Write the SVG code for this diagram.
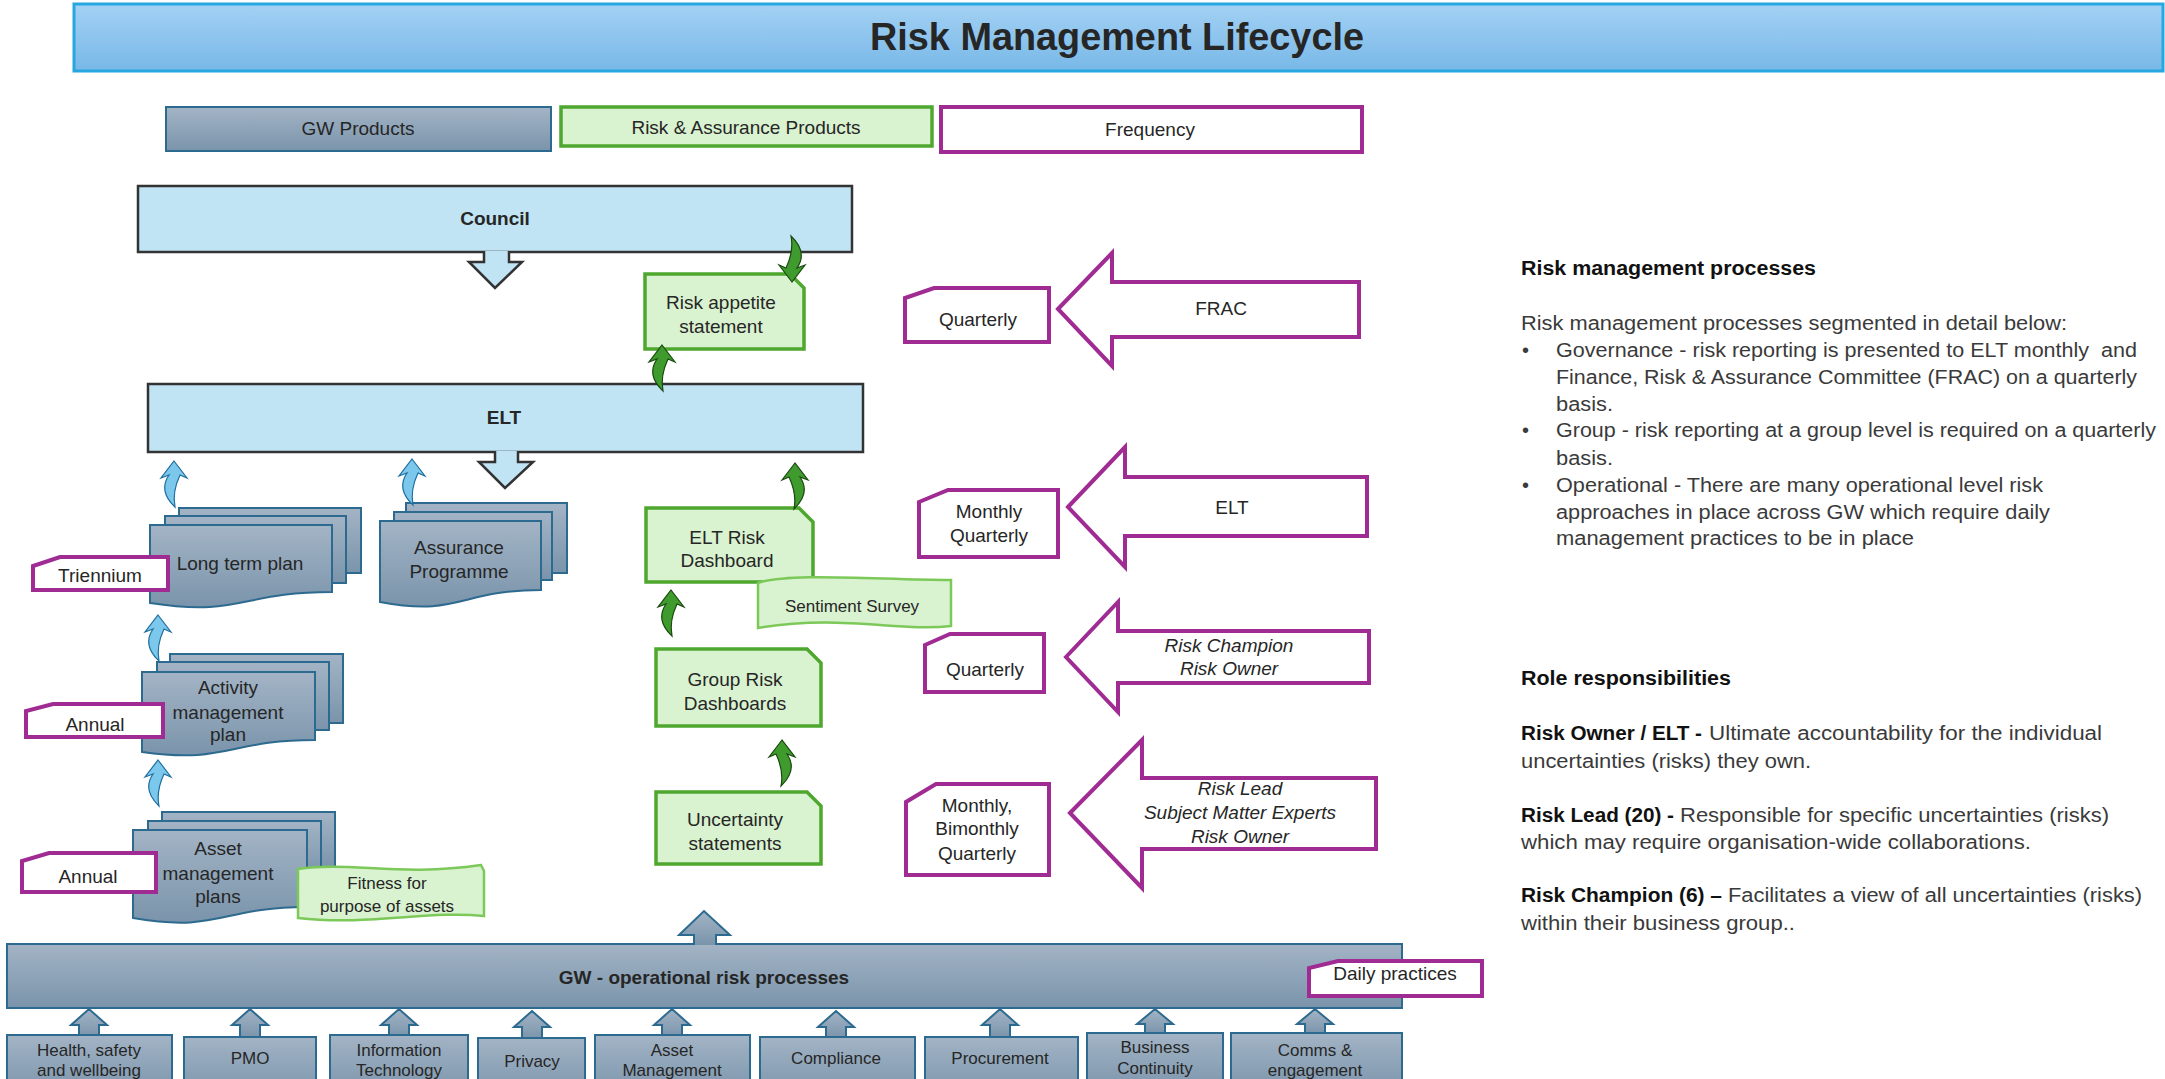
<svg xmlns="http://www.w3.org/2000/svg" width="2165" height="1079" viewBox="0 0 2165 1079">
<defs>
<linearGradient id="gTitle" x1="0" y1="0" x2="0" y2="1"><stop offset="0" stop-color="#a3d1f4"/><stop offset="1" stop-color="#78b8e7"/></linearGradient>
<linearGradient id="gGW" x1="0" y1="0" x2="0" y2="1"><stop offset="0" stop-color="#a3b4c5"/><stop offset="1" stop-color="#7a94ab"/></linearGradient>
<path id="ca" d="M0,0 L13,17 L6,14 Q-2,31 1,46 Q-16,30 -5,14 L-13,17 Z"/>
<style>
.title{fill:url(#gTitle);stroke:#27a7df;stroke-width:3}
.gw{fill:url(#gGW);stroke:#2d6a8f;stroke-width:2}
.grn{fill:#d9f2d0;stroke:#4ea72e;stroke-width:3.5}
.grnw{fill:#d9f2d0;stroke:#7cc95a;stroke-width:2.5}
.pur{fill:#ffffff;stroke:#a02b93;stroke-width:4}
.lb{fill:#c1e4f5;stroke:#333333;stroke-width:2.5}
.ba{fill:#7cc7ec;stroke:#1e6f9f;stroke-width:1.2}
.ga{fill:#3f9b2e;stroke:#1a4a10;stroke-width:1.2}
text{font-family:"Liberation Sans",Arial,sans-serif;fill:#262626}
.c{text-anchor:middle;font-size:19px}
.s{text-anchor:middle;font-size:17px}
.b{font-weight:bold}
.i{font-style:italic}
.r{font-size:20px;fill:#3a3a3a}
.rb{font-size:20px;font-weight:bold;fill:#111111}
</style>
</defs>
<rect width="2165" height="1079" fill="#ffffff"/>

<g id="title">
<rect class="title" x="74" y="4" width="2089" height="67"/>
<text x="1117" y="50" text-anchor="middle" font-size="38" font-weight="bold" fill="#111" textLength="494" lengthAdjust="spacingAndGlyphs">Risk Management Lifecycle</text>
</g>

<g id="legend-gw"><rect class="gw" x="166" y="107" width="385" height="44"/><text class="c" x="358" y="135">GW Products</text></g>
<g id="legend-ra"><rect class="grn" x="561" y="107" width="371" height="39"/><text class="c" x="746" y="134">Risk &amp; Assurance Products</text></g>
<g id="legend-freq"><rect class="pur" x="941" y="107" width="421" height="45"/><text class="c" x="1150" y="136">Frequency</text></g>

<g id="council"><rect class="lb" x="138" y="186" width="714" height="66"/><text class="c b" x="495" y="225" font-size="20">Council</text></g>
<g id="elt"><rect class="lb" x="148" y="384" width="715" height="68"/><text class="c b" x="504" y="424">ELT</text></g>

<g id="long-term-plan">
<rect class="gw" x="179" y="508" width="182" height="65"/>
<rect class="gw" x="165" y="516" width="181" height="67"/>
<path class="gw" d="M150,525 H332 V592 C241,592 241,617 150,603 Z"/>
<text class="c" x="240" y="570">Long term plan</text>
</g>
<g id="assurance-programme">
<rect class="gw" x="406" y="503" width="161" height="70"/>
<rect class="gw" x="394" y="512" width="158" height="68"/>
<path class="gw" d="M380,521 H541 V590 C460,590 460,617 380,602 Z"/>
<text class="c" x="459" y="554">Assurance</text><text class="c" x="459" y="578">Programme</text>
</g>
<g id="activity-plan">
<rect class="gw" x="170" y="654" width="173" height="69"/>
<rect class="gw" x="157" y="662" width="172" height="68"/>
<path class="gw" d="M142,672 H315 V740 C228,740 228,764 142,752 Z"/>
<text class="c" x="228" y="694">Activity</text><text class="c" x="228" y="719">management</text><text class="c" x="228" y="741">plan</text>
</g>
<g id="asset-plans">
<rect class="gw" x="162" y="812" width="173" height="56"/>
<rect class="gw" x="148" y="821" width="173" height="55"/>
<path class="gw" d="M133,830 H307 V907 C220,907 220,933 133,918 Z"/>
<text class="c" x="218" y="855">Asset</text><text class="c" x="218" y="880">management</text><text class="c" x="218" y="903">plans</text>
</g>

<g id="tag-triennium"><path class="pur" d="M60,557 H168 V590 H33 V566 Z"/><text class="c" x="100" y="582">Triennium</text></g>
<g id="tag-annual-1"><path class="pur" d="M53,704 H163 V737 H26 V711 Z"/><text class="c" x="95" y="731">Annual</text></g>
<g id="tag-annual-2"><path class="pur" d="M49,853 H156 V892 H22 V861 Z"/><text class="c" x="88" y="883">Annual</text></g>

<g id="fitness"><path class="grnw" d="M298,869 C350,861 400,877 481,865 L484,871 L484,916 C430,910 370,926 298,918 Z"/><text class="s" x="387" y="889">Fitness for</text><text class="s" x="387" y="912">purpose of assets</text></g>

<g id="risk-appetite"><path class="grn" d="M645,274 H790 L804,288 V349 H645 Z"/><text class="c" x="721" y="309">Risk appetite</text><text class="c" x="721" y="333">statement</text></g>
<g id="elt-risk-dashboard"><path class="grn" d="M646,508 H799 L813,522 V582 H646 Z"/><text class="c" x="727" y="544">ELT Risk</text><text class="c" x="727" y="567">Dashboard</text></g>
<g id="sentiment-survey"><path class="grnw" d="M758,583 C790,572 880,580 951,580 L951,626 C900,632 840,614 758,628 Z"/><text class="s" x="852" y="612">Sentiment Survey</text></g>
<g id="group-risk-dashboards"><path class="grn" d="M656,649 H807 L821,663 V726 H656 Z"/><text class="c" x="735" y="686">Group Risk</text><text class="c" x="735" y="710">Dashboards</text></g>
<g id="uncertainty-statements"><path class="grn" d="M656,792 H807 L821,806 V864 H656 Z"/><text class="c" x="735" y="826">Uncertainty</text><text class="c" x="735" y="850">statements</text></g>

<g id="freq-frac"><path class="pur" d="M934,288 H1049 V342 H905 V298 Z"/><text class="c" x="978" y="326">Quarterly</text></g>
<g id="arrow-frac"><path class="pur" d="M1058,309 L1112,253 L1112,282 L1359,282 L1359,337 L1112,337 L1112,366 Z"/><text class="c" x="1221" y="315">FRAC</text></g>
<g id="freq-elt"><path class="pur" d="M948,490 H1058 V557 H919 V502 Z"/><text class="c" x="989" y="518">Monthly</text><text class="c" x="989" y="542">Quarterly</text></g>
<g id="arrow-elt"><path class="pur" d="M1068,507 L1125,447 L1125,477 L1367,477 L1367,536 L1125,536 L1125,567 Z"/><text class="c" x="1232" y="514">ELT</text></g>
<g id="freq-champion"><path class="pur" d="M950,634 H1044 V692 H925 V645 Z"/><text class="c" x="985" y="676">Quarterly</text></g>
<g id="arrow-champion"><path class="pur" d="M1066,657 L1118,602 L1118,631 L1369,631 L1369,683 L1118,683 L1118,712 Z"/><text class="c i" x="1229" y="652">Risk Champion</text><text class="c i" x="1229" y="675">Risk Owner</text></g>
<g id="freq-lead"><path class="pur" d="M936,784 H1049 V875 H906 V802 Z"/><text class="c" x="977" y="812">Monthly,</text><text class="c" x="977" y="835">Bimonthly</text><text class="c" x="977" y="860">Quarterly</text></g>
<g id="arrow-lead"><path class="pur" d="M1070,813 L1142,740 L1142,778 L1376,778 L1376,849 L1142,849 L1142,888 Z"/><text class="c i" x="1240" y="795">Risk Lead</text><text class="c i" x="1240" y="819">Subject Matter Experts</text><text class="c i" x="1240" y="843">Risk Owner</text></g>

<g id="gw-bar"><rect class="gw" x="7" y="944" width="1395" height="64"/><text class="c b" x="704" y="984">GW - operational risk processes</text></g>
<g id="tag-daily"><path class="pur" d="M1338,961 H1482 V996 H1309 V968 Z"/><text class="c" x="1395" y="980">Daily practices</text></g>

<g id="connectors">
<path class="lb" d="M484,251 L484,262 L469,262 L495,288 L522,262 L509,262 L509,251"/>
<path class="lb" d="M495,451 L495,462 L479,462 L505,488 L533,462 L518,462 L518,451"/>
<path class="gw" d="M694,945 L694,935 L679,935 L704,911 L730,935 L716,935 L716,945"/>
<use href="#ca" class="ba" transform="translate(174,461)"/>
<use href="#ca" class="ba" transform="translate(412,459)"/>
<use href="#ca" class="ba" transform="translate(158,615)"/>
<use href="#ca" class="ba" transform="translate(158,760)"/>
<use href="#ca" class="ga" transform="translate(662,345)"/>
<use href="#ca" class="ga" transform="translate(792,282) rotate(180)"/>
<use href="#ca" class="ga" transform="translate(795,463) scale(-1,1)"/>
<use href="#ca" class="ga" transform="translate(671,590)"/>
<use href="#ca" class="ga" transform="translate(782,740) scale(-1,1)"/>
<path class="gw" d="M79,1037 V1025 H71 L89,1009 L107,1025 H99 V1037"/>
<path class="gw" d="M240,1038 V1025 H232 L250,1009 L268,1025 H260 V1038"/>
<path class="gw" d="M389,1037 V1025 H381 L399,1009 L417,1025 H409 V1037"/>
<path class="gw" d="M522,1039 V1027 H514 L532,1011 L550,1027 H542 V1039"/>
<path class="gw" d="M662,1037 V1025 H654 L672,1009 L690,1025 H682 V1037"/>
<path class="gw" d="M826,1038 V1027 H818 L836,1011 L854,1027 H846 V1038"/>
<path class="gw" d="M990,1038 V1025 H982 L1000,1009 L1018,1025 H1010 V1038"/>
<path class="gw" d="M1145,1034 V1024 H1137 L1155,1009 L1173,1024 H1165 V1034"/>
<path class="gw" d="M1305,1034 V1024 H1297 L1315,1009 L1333,1024 H1325 V1034"/>
</g>

<g id="op-health"><rect class="gw" x="7" y="1035" width="165" height="60"/><text class="s" x="89" y="1056">Health, safety</text><text class="s" x="89" y="1076">and wellbeing</text></g>
<g id="op-pmo"><rect class="gw" x="184" y="1037" width="132" height="60"/><text class="s" x="250" y="1064">PMO</text></g>
<g id="op-it"><rect class="gw" x="330" y="1035" width="138" height="60"/><text class="s" x="399" y="1056">Information</text><text class="s" x="399" y="1076">Technology</text></g>
<g id="op-privacy"><rect class="gw" x="478" y="1038" width="107" height="60"/><text class="s" x="532" y="1067">Privacy</text></g>
<g id="op-asset"><rect class="gw" x="595" y="1035" width="155" height="60"/><text class="s" x="672" y="1056">Asset</text><text class="s" x="672" y="1076">Management</text></g>
<g id="op-compliance"><rect class="gw" x="760" y="1037" width="155" height="60"/><text class="s" x="836" y="1064">Compliance</text></g>
<g id="op-procurement"><rect class="gw" x="925" y="1037" width="153" height="60"/><text class="s" x="1000" y="1064">Procurement</text></g>
<g id="op-bc"><rect class="gw" x="1087" y="1033" width="136" height="60"/><text class="s" x="1155" y="1053">Business</text><text class="s" x="1155" y="1074">Continuity</text></g>
<g id="op-comms"><rect class="gw" x="1231" y="1033" width="171" height="60"/><text class="s" x="1315" y="1056">Comms &amp;</text><text class="s" x="1315" y="1076">engagement</text></g>

<g id="processes-text">
<text class="rb" x="1521" y="275" textLength="295" lengthAdjust="spacingAndGlyphs">Risk management processes</text>
<text class="r" x="1521" y="330" textLength="546" lengthAdjust="spacingAndGlyphs">Risk management processes segmented in detail below:</text>
<text class="r" x="1522" y="357">•</text>
<text class="r" x="1556" y="357" xml:space="preserve" textLength="581" lengthAdjust="spacingAndGlyphs">Governance - risk reporting is presented to ELT monthly  and</text>
<text class="r" x="1556" y="384" textLength="581" lengthAdjust="spacingAndGlyphs">Finance, Risk &amp; Assurance Committee (FRAC) on a quarterly</text>
<text class="r" x="1556" y="411" textLength="57" lengthAdjust="spacingAndGlyphs">basis.</text>
<text class="r" x="1522" y="437">•</text>
<text class="r" x="1556" y="437" textLength="600" lengthAdjust="spacingAndGlyphs">Group - risk reporting at a group level is required on a quarterly</text>
<text class="r" x="1556" y="465" textLength="57" lengthAdjust="spacingAndGlyphs">basis.</text>
<text class="r" x="1522" y="492">•</text>
<text class="r" x="1556" y="492" textLength="487" lengthAdjust="spacingAndGlyphs">Operational - There are many operational level risk</text>
<text class="r" x="1556" y="519" textLength="494" lengthAdjust="spacingAndGlyphs">approaches in place across GW which require daily</text>
<text class="r" x="1556" y="545" textLength="358" lengthAdjust="spacingAndGlyphs">management practices to be in place</text>
</g>

<g id="roles-text">
<text class="rb" x="1521" y="685" textLength="210" lengthAdjust="spacingAndGlyphs">Role responsibilities</text>
<text class="rb" x="1521" y="740" textLength="181" lengthAdjust="spacingAndGlyphs">Risk Owner / ELT -</text>
<text class="r" x="1709" y="740" textLength="393" lengthAdjust="spacingAndGlyphs">Ultimate accountability for the individual</text>
<text class="r" x="1521" y="768" textLength="290" lengthAdjust="spacingAndGlyphs">uncertainties (risks) they own.</text>
<text class="rb" x="1521" y="822" textLength="153" lengthAdjust="spacingAndGlyphs">Risk Lead (20) -</text>
<text class="r" x="1680" y="822" textLength="429" lengthAdjust="spacingAndGlyphs">Responsible for specific uncertainties (risks)</text>
<text class="r" x="1521" y="849" textLength="510" lengthAdjust="spacingAndGlyphs">which may require organisation-wide collaborations.</text>
<text class="rb" x="1521" y="902" textLength="201" lengthAdjust="spacingAndGlyphs">Risk Champion (6) –</text>
<text class="r" x="1728" y="902" textLength="414" lengthAdjust="spacingAndGlyphs">Facilitates a view of all uncertainties (risks)</text>
<text class="r" x="1521" y="930" textLength="274" lengthAdjust="spacingAndGlyphs">within their business group..</text>
</g>
</svg>
